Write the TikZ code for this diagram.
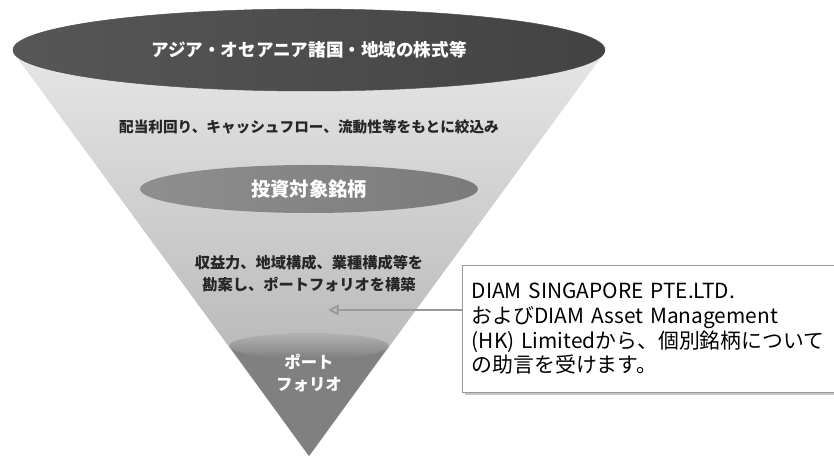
\documentclass[tikz,border=0pt]{standalone}
\usepackage{fontspec}
\setmainfont{Noto Sans CJK JP}
\usepackage{tikz}
\usetikzlibrary{positioning}
\usetikzlibrary{arrows.meta,calc,shadows,shadings}
\tikzstyle{hint} = [draw=black!40, line width=0.8pt, fill=white, drop shadow={shadow xshift=2pt, shadow yshift=-2pt, fill=black!45}]
\tikzstyle{arrow} = [black!40, line width=1.6pt, -{Triangle[open, length=9pt, width=9pt]}]
\begin{document}
\begin{tikzpicture}[x=0.03cm, y=-0.03cm,
				lighttext/.style = {text=white, font=\bfseries\fontsize{#1}{1.35\dimexpr#1\relax}\selectfont},
				darktext/.style = {text=black!85, font=\bfseries\fontsize{#1}{1.45\dimexpr#1\relax}\selectfont, align=center},
				]
				\useasboundingbox (0,0) rectangle (834,458);
				% funnel body
				\coordinate (tip) at (309,456);
				\shade[top color=black!10, bottom color=black!33]
				(14.5,54) -- (tip) -- (603.5,54) -- cycle;
				% bottom part
				\fill[black!50] (229,346) -- (tip) -- (389,346) -- cycle;
				\shade[top color=black!30, bottom color=black!50] (309,346) ellipse [x radius=80, y radius=13];
				% top rim
				\shade[left color=black!66, right color=black!74, draw=black!70]
				(309,50) ellipse [x radius=296, y radius=41];
				% middle rim
				\shade[left color=black!44, right color=black!52]
				(309,189) ellipse [x radius=169, y radius=24];
				% labels
				\node[lighttext=15pt] (universe) at (309,50) {アジア・オセアニア諸国・地域の株式等};
				\node[darktext=12.5pt] (screen) at (309,127) {配当利回り、キャッシュフロー、流動性等をもとに絞込み};
				\node[lighttext=16.5pt] (target) at (309,189) {投資対象銘柄};
				\node[darktext=13pt] (build) at (309,274) {収益力、地域構成、業種構成等を\\勘案し、ポートフォリオを構築};
				\node[lighttext=14pt, align=center] (pf) at (309,373) {ポート\\フォリオ};
				% advice box
				\node[hint, anchor=north west, minimum width=11.1cm, minimum height=3.81cm,
				text width=10.6cm, align=left, font=\fontsize{17.8pt}{21pt}\selectfont,
				inner xsep=8pt] (advice) at (462,265)
				{DIAM SINGAPORE PTE.LTD.\\およびDIAM Asset Management\\(HK) Limitedから、個別銘柄について\\の助言を受けます。};
				\coordinate (aim) at (328,310);
				\draw[arrow] (advice.west |- aim) -- (aim);
\end{tikzpicture}
\end{document}
